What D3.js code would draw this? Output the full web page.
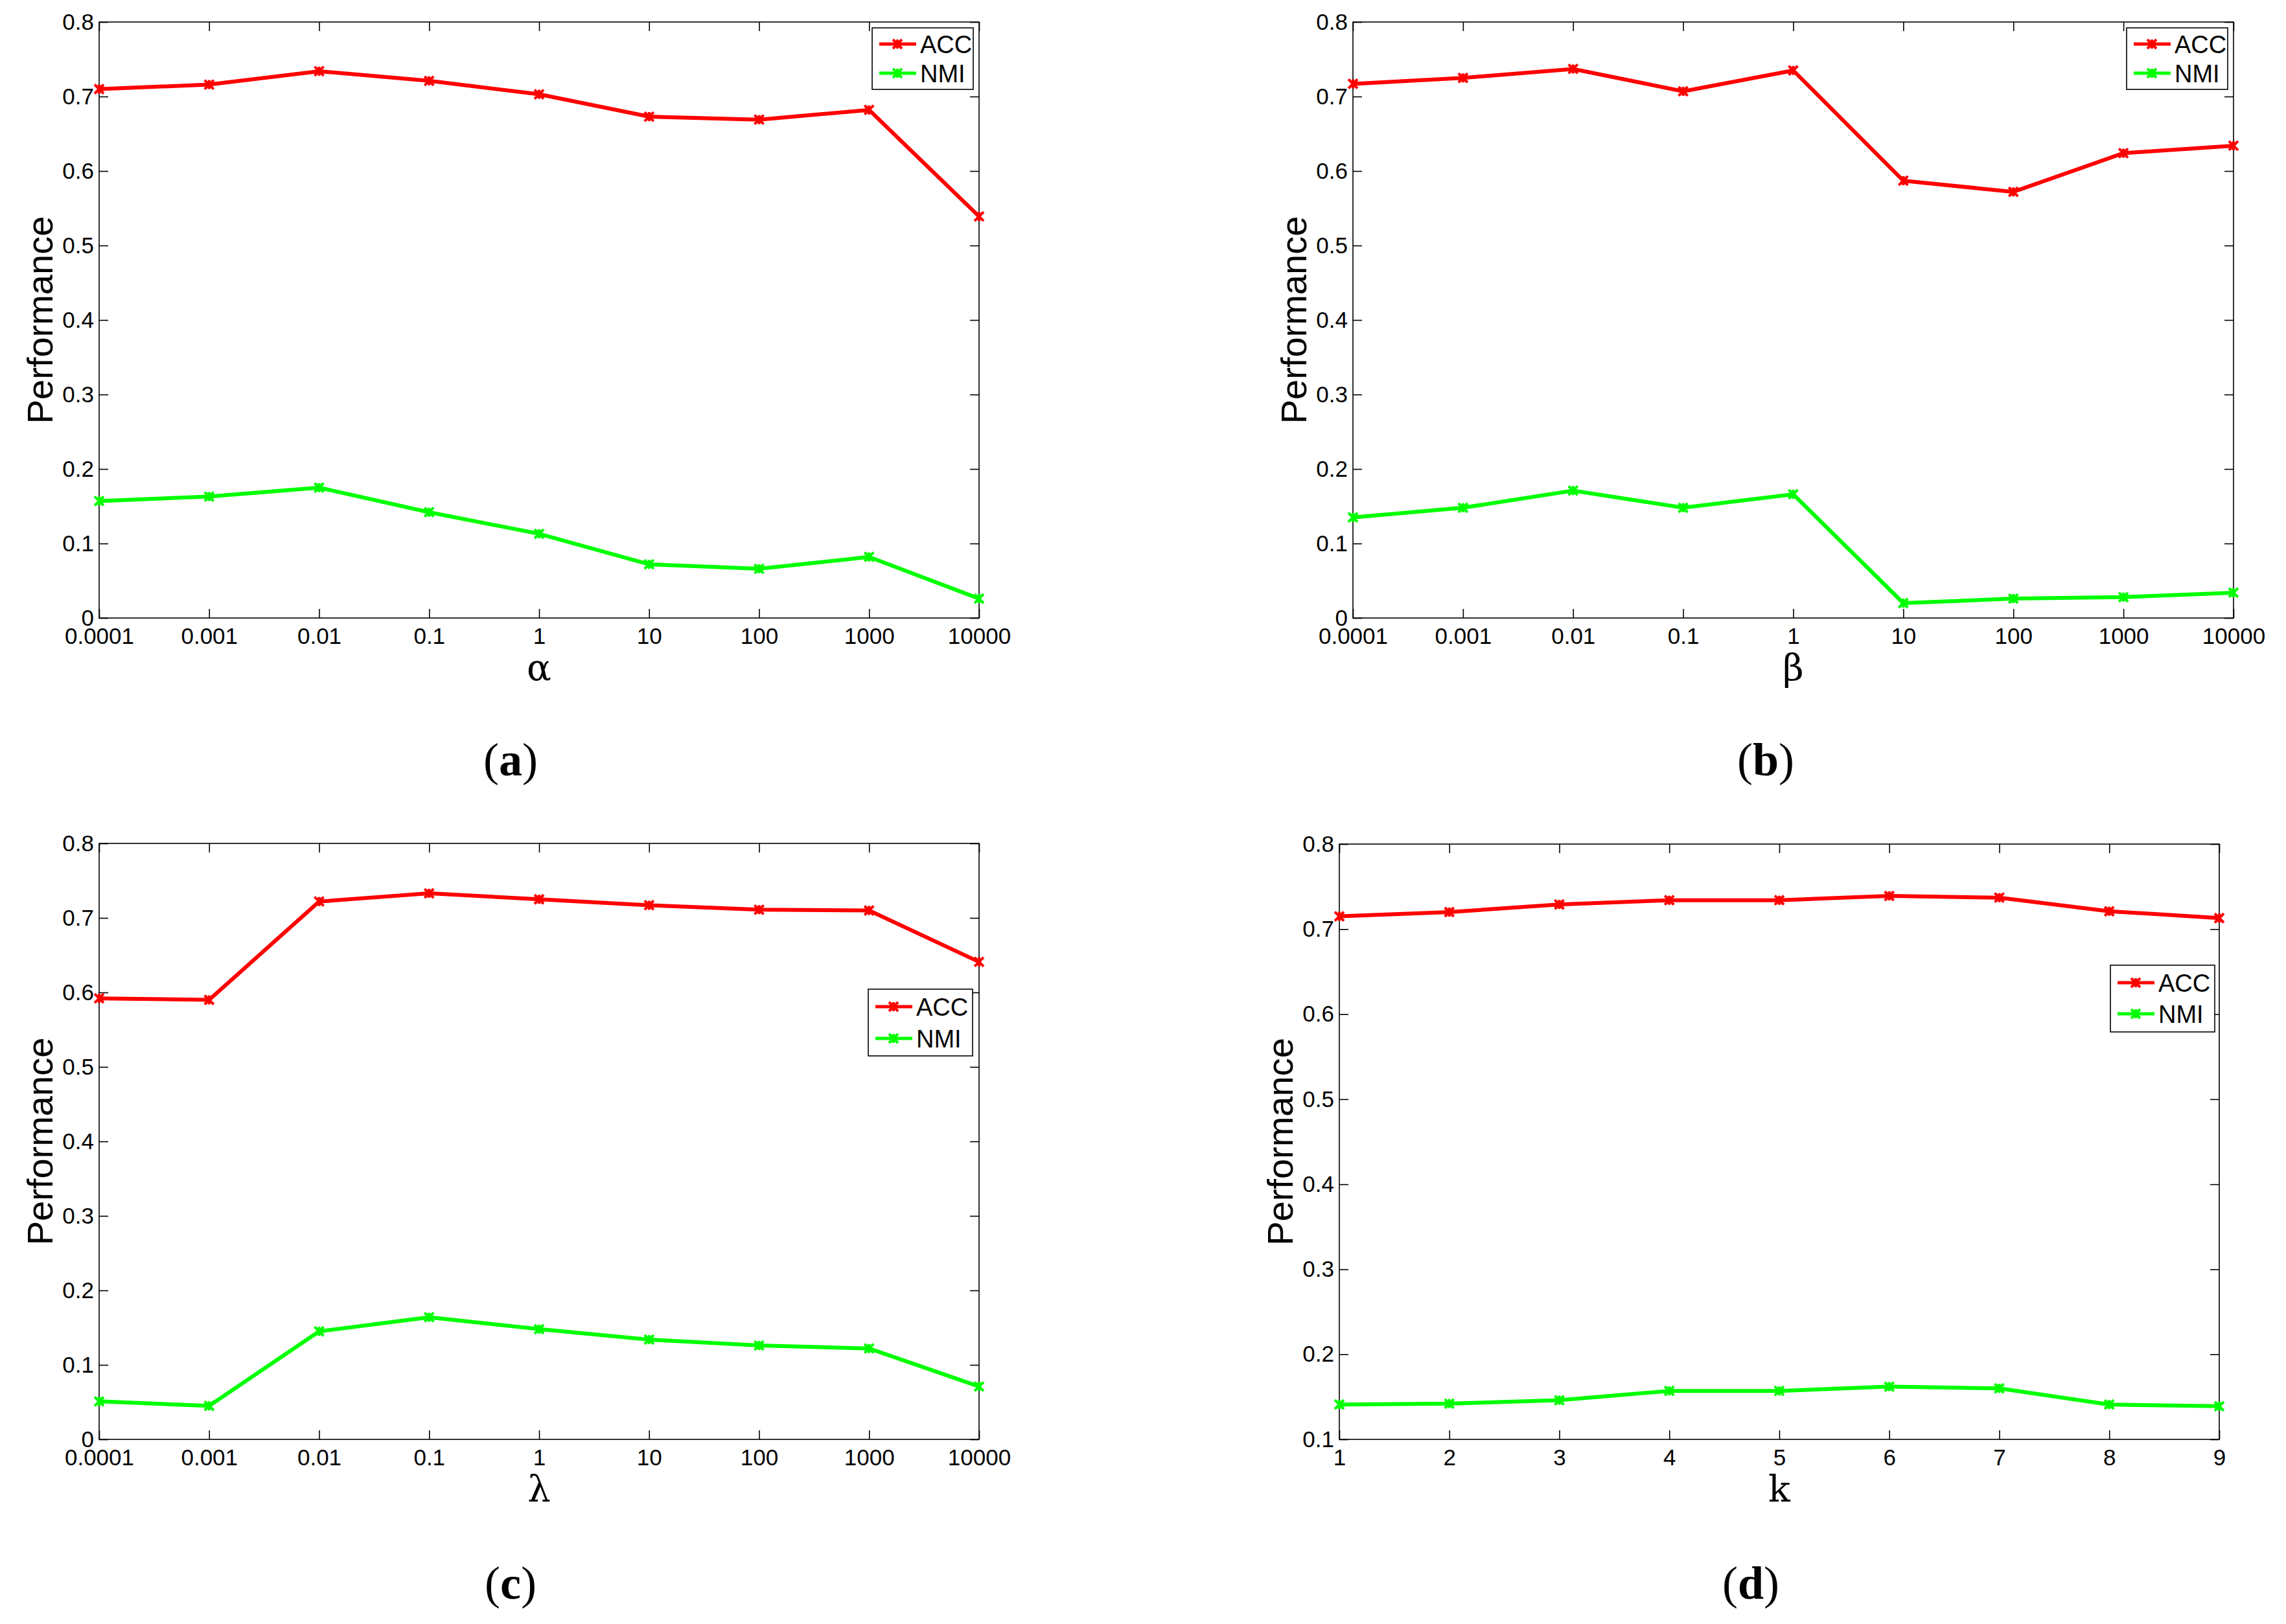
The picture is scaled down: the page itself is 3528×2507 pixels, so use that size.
<!DOCTYPE html>
<html><head><meta charset="utf-8">
<script src="https://cdn.jsdelivr.net/npm/d3@7"></script>
<style>
html,body{margin:0;padding:0;background:#fff;}
svg{display:block;}
</style></head>
<body>
<svg id="chart" width="3528" height="2507"></svg>
<script>
// ---- data ----
const logCategories = ["0.0001","0.001","0.01","0.1","1","10","100","1000","10000"];
const kCategories = ["1","2","3","4","5","6","7","8","9"];
const seriesNames = ["ACC","NMI"];
const seriesColors = ["#ff0000","#00ff00"];

const alphaACC = [0.710,0.716,0.734,0.721,0.703,0.673,0.669,0.682,0.539];
const alphaNMI = [0.157,0.163,0.175,0.142,0.113,0.072,0.066,0.082,0.026];

const betaACC = [0.717,0.725,0.737,0.707,0.735,0.587,0.572,0.624,0.634];
const betaNMI = [0.135,0.148,0.171,0.148,0.166,0.020,0.026,0.028,0.034];

const lambdaACC = [0.592,0.590,0.722,0.733,0.725,0.717,0.711,0.710,0.641];
const lambdaNMI = [0.051,0.045,0.145,0.164,0.148,0.134,0.126,0.122,0.071];

const kACC = [0.715,0.720,0.729,0.734,0.734,0.739,0.737,0.721,0.713];
const kNMI = [0.141,0.142,0.146,0.157,0.157,0.162,0.160,0.141,0.139];

const yTicksFull = [0,0.1,0.2,0.3,0.4,0.5,0.6,0.7,0.8];
const yTicksK = [0.1,0.2,0.3,0.4,0.5,0.6,0.7,0.8];

const panels = [
  {cats:logCategories, acc:alphaACC, nmi:alphaNMI, yDom:[0,0.8], yTicks:yTicksFull, xlabel:"α", tag:"a",
   box:{l:153,r:1511,t:34,b:954}, legend:{x:1346,y:43,w:156,h:95,r1:25,r2:70}, tagPos:{x:788,y:1197}},
  {cats:logCategories, acc:betaACC, nmi:betaNMI, yDom:[0,0.8], yTicks:yTicksFull, xlabel:"β", tag:"b",
   box:{l:2088,r:3447,t:34,b:954}, legend:{x:3282,y:43,w:156,h:95,r1:25,r2:70}, tagPos:{x:2725,y:1197}},
  {cats:logCategories, acc:lambdaACC, nmi:lambdaNMI, yDom:[0,0.8], yTicks:yTicksFull, xlabel:"λ", tag:"c",
   box:{l:153,r:1511,t:1302,b:2222}, legend:{x:1340,y:1527,w:161,h:103,r1:27,r2:76}, tagPos:{x:788,y:2468}},
  {cats:kCategories, acc:kACC, nmi:kNMI, yDom:[0.1,0.8], yTicks:yTicksK, xlabel:"k", tag:"d",
   box:{l:2067,r:3425,t:1303,b:2222}, legend:{x:3257,y:1490,w:161,h:103,r1:27,r2:75}, tagPos:{x:2702,y:2468}}
];

const svg = d3.select("#chart");
const tickFont = "'Liberation Sans',Arial,Helvetica,sans-serif";

function marker(g, x, y, color){
  const s = 7;
  g.append("path")
    .attr("d", `M${x-s},${y-s}L${x+s},${y+s}M${x-s},${y+s}L${x+s},${y-s}M${x},${y-s}L${x},${y+s}`)
    .attr("stroke", color).attr("stroke-width", 4).attr("fill","none");
}

panels.forEach(p => {
  const {l,r,t,b} = p.box;
  const g = svg.append("g");
  const x = d3.scalePoint().domain(p.cats).range([l,r]).padding(0);
  const y = d3.scaleLinear().domain(p.yDom).range([b,t]);
  const tl = 14;

  // frame
  g.append("rect").attr("x",l).attr("y",t).attr("width",r-l).attr("height",b-t)
    .attr("fill","none").attr("stroke","#000").attr("stroke-width",1.6);

  // axes with inward ticks
  const fmt = d => d===0 ? "0" : String(+d.toFixed(1));
  const yl = g.append("g").attr("transform",`translate(${l},0)`)
    .call(d3.axisLeft(y).tickValues(p.yTicks).tickSize(-tl).tickPadding(8).tickFormat(fmt));
  const yr = g.append("g").attr("transform",`translate(${r},0)`)
    .call(d3.axisRight(y).tickValues(p.yTicks).tickSize(-tl).tickFormat(""));
  const xb = g.append("g").attr("transform",`translate(0,${b})`)
    .call(d3.axisBottom(x).tickSize(-tl).tickPadding(15));
  const xt = g.append("g").attr("transform",`translate(0,${t})`)
    .call(d3.axisTop(x).tickSize(-tl).tickFormat(""));
  [yl,yr,xb,xt].forEach(a => {
    a.select(".domain").remove();
    a.selectAll(".tick line").attr("stroke","#000").attr("stroke-width",1.6);
    a.selectAll("text").attr("font-family",tickFont).attr("font-size",35).attr("fill","#000");
  });

  // series
  const series = [p.acc, p.nmi];
  series.forEach((vals,i) => {
    const line = d3.line().x((d,j)=>x(p.cats[j])).y(d=>y(d));
    g.append("path").datum(vals).attr("d",line)
      .attr("fill","none").attr("stroke",seriesColors[i]).attr("stroke-width",6)
      .attr("stroke-linejoin","round");
    vals.forEach((v,j)=>marker(g, x(p.cats[j]), y(v), seriesColors[i]));
  });

  // y label
  g.append("text").attr("transform",`translate(${l-72},${(t+b)/2}) rotate(-90)`)
    .attr("text-anchor","middle").attr("font-family",tickFont).attr("font-size",56)
    .attr("fill","#000").text("Performance");
  // x label
  g.append("text").attr("x",(l+r)/2).attr("y",b+96)
    .attr("text-anchor","middle").attr("font-family","'DejaVu Serif','Liberation Serif',serif").attr("font-size",56)
    .attr("fill","#000").text(p.xlabel);
  // subplot tag
  const tagText = g.append("text").attr("x",p.tagPos.x).attr("y",p.tagPos.y)
    .attr("text-anchor","middle").attr("font-family","'Liberation Serif','DejaVu Serif',serif").attr("font-size",72)
    .attr("fill","#000");
  tagText.append("tspan").text("(");
  tagText.append("tspan").attr("font-weight","bold").text(p.tag);
  tagText.append("tspan").text(")");

  // legend
  const L = p.legend;
  const lg = g.append("g").attr("transform",`translate(${L.x},${L.y})`);
  lg.append("rect").attr("x",0).attr("y",0).attr("width",L.w).attr("height",L.h)
    .attr("fill","#fff").attr("stroke","#000").attr("stroke-width",1.6);
  seriesNames.forEach((name,i)=>{
    const yy = i===0 ? L.r1 : L.r2;
    lg.append("line").attr("x1",11).attr("x2",68).attr("y1",yy).attr("y2",yy)
      .attr("stroke",seriesColors[i]).attr("stroke-width",5);
    marker(lg, 39, yy, seriesColors[i]);
    lg.append("text").attr("x",74).attr("y",yy).attr("dy","0.36em")
      .attr("font-family",tickFont).attr("font-size",38).attr("fill","#000").text(name);
  });
});
</script>
</body></html>
